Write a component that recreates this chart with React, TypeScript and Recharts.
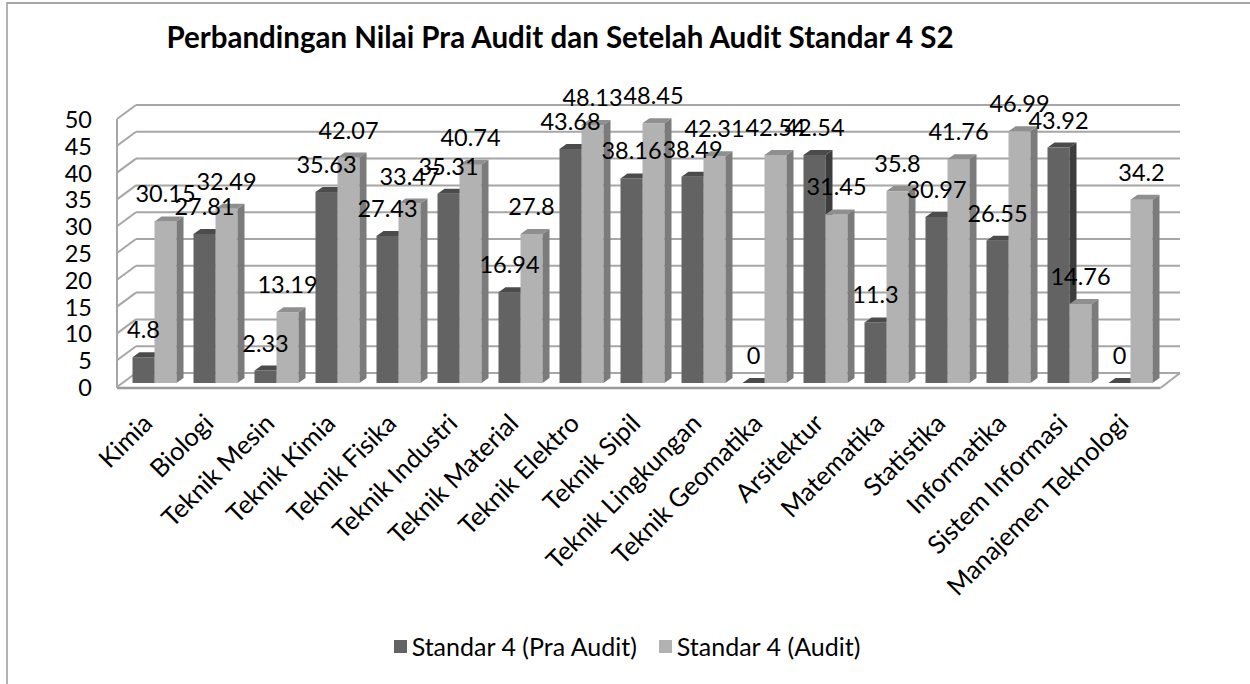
import React from 'react';
import { BarChart, Bar, XAxis, YAxis, CartesianGrid, LabelList, Legend } from 'recharts';

const categories = [
  'Kimia', 'Biologi', 'Teknik Mesin', 'Teknik Kimia', 'Teknik Fisika', 'Teknik Industri',
  'Teknik Material', 'Teknik Elektro', 'Teknik Sipil', 'Teknik Lingkungan', 'Teknik Geomatika',
  'Arsitektur', 'Matematika', 'Statistika', 'Informatika', 'Sistem Informasi', 'Manajemen Teknologi',
];
const praAudit = [4.8, 27.81, 2.33, 35.63, 27.43, 35.31, 16.94, 43.68, 38.16, 38.49, 0, 42.54, 11.3, 30.97, 26.55, 43.92, 0];
const audit = [30.15, 32.49, 13.19, 42.07, 33.47, 40.74, 27.8, 48.13, 48.45, 42.31, 42.54, 31.45, 35.8, 41.76, 46.99, 14.76, 34.2];
const yTicks = [0, 5, 10, 15, 20, 25, 30, 35, 40, 45, 50];
const seriesNames = ['Standar 4 (Pra Audit)', 'Standar 4 (Audit)'];

const data = categories.map((name, i) => ({ name, pra: praAudit[i], audit: audit[i] }));

const FONT = 'Lato, "Open Sans", sans-serif';
const DX = 7;
const DY = 5;
const GRID = '#a6a6a6';

// column with a top and a side face, Excel 3-D look
const Bar3D = (props: any) => {
  const { x, y, width, height, front, top, side } = props;
  if (x == null || y == null) return null;
  const h = Math.max(0, height || 0);
  return (
    <g>
      <rect x={x} y={y} width={width} height={h} fill={front} />
      <polygon
        points={`${x},${y} ${x + DX},${y - DY} ${x + width + DX},${y - DY} ${x + width},${y}`}
        fill={top}
      />
      <polygon
        points={`${x + width},${y} ${x + width + DX},${y - DY} ${x + width + DX},${y + h - DY} ${x + width},${y + h}`}
        fill={side}
      />
    </g>
  );
};

// back wall gridline + left wall diagonal (+ floor and wall edge)
const WallLine = (props: any) => {
  const { x1, y1, x2, y, height } = props;
  const back = y1 - 10;
  const isTop = y != null && Math.abs(y1 - y) < 1;
  const isBottom = y != null && height != null && Math.abs(y1 - (y + height)) < 1;
  return (
    <g>
      <line x1={x1 + 12.5} y1={back} x2={x2 + 19.5} y2={back} stroke={GRID} strokeWidth={2} />
      <line x1={x1 - 6.5} y1={y1 + 4} x2={x1 + 12.5} y2={back} stroke={GRID} strokeWidth={2} />
      {isTop && (
        <line x1={x1 - 6.5} y1={y1 + 4} x2={x1 - 6.5} y2={y + height + 5} stroke={GRID} strokeWidth={2} />
      )}
      {isBottom && (
        <g>
          <line x1={x1 - 6.5} y1={y1 + 5} x2={x2} y2={y1 + 5} stroke="#999" strokeWidth={2.5} />
          <line x1={x2} y1={y1 + 5} x2={x2 + 19.5} y2={back} stroke={GRID} strokeWidth={2} />
        </g>
      )}
    </g>
  );
};

const ValueLabel = (props: any) => {
  const { x, y, width, value } = props;
  return (
    <text x={x + width / 2} y={y - 19} textAnchor="middle" fontSize={23.5} fill="#000">
      {value}
    </text>
  );
};

const CategoryTick = (props: any) => {
  const { x, y, payload } = props;
  return (
    <g transform={`translate(${x},${y + 34})`}>
      <text x={0} y={0} textAnchor="end" transform="rotate(-45)" fontSize={25.5} fill="#000">
        {payload.value}
      </text>
    </g>
  );
};

const ValueTick = (props: any) => {
  const { x, y, payload } = props;
  return (
    <text x={x - 23.5} y={y + 13} textAnchor="end" fontSize={23.5} fill="#000">
      {payload.value}
    </text>
  );
};

const LegendContent = (props: any) => {
  const { payload = [] } = props;
  const items = [...payload].sort(
    (a: any, b: any) => seriesNames.indexOf(a.value) - seriesNames.indexOf(b.value),
  );
  return (
    <div style={{ display: 'flex', justifyContent: 'center', paddingLeft: 4, fontSize: 25, color: '#000' }}>
      {items.map((p: any, i: number) => (
        <span key={i} style={{ display: 'flex', alignItems: 'center', marginLeft: i ? 22 : 0 }}>
          <span style={{ width: 13, height: 13, background: p.color, marginRight: 5, display: 'inline-block' }} />
          {p.value}
        </span>
      ))}
    </div>
  );
};

export default function App() {
  return (
    <div
      style={{
        position: 'absolute', left: 0, top: 0, width: 1250, height: 684,
        overflow: 'hidden', background: '#fff', fontFamily: FONT,
      }}
    >
      <div
        style={{
          position: 'absolute', left: 6, top: 2, width: 1300, height: 800,
          borderLeft: '2px solid #b4b4b4', borderTop: '2px solid #a6a6a6',
        }}
      />
      <div
        style={{
          position: 'absolute', left: 0, top: 19, width: 1120, textAlign: 'center',
          fontSize: 29.5, fontWeight: 'bold', color: '#000',
        }}
      >
        Perbandingan Nilai Pra Audit dan Setelah Audit Standar 4 S2
      </div>
      <BarChart
        width={1250}
        height={684}
        data={data}
        margin={{ top: 115, right: 89.5, left: 63.5, bottom: 271 }}
        barGap={0}
        barSize={22}
        style={{ position: 'absolute', left: 0, top: 0, fontFamily: FONT }}
      >
        <CartesianGrid vertical={false} horizontal={(p: any) => <WallLine {...p} />} />
        <XAxis dataKey="name" interval={0} axisLine={false} tickLine={false} height={30} tick={<CategoryTick />} />
        <YAxis
          domain={[0, 50]}
          ticks={yTicks}
          interval={0}
          width={60}
          axisLine={false}
          tickLine={false}
          tick={<ValueTick />}
        />
        <Legend
          layout="horizontal"
          verticalAlign="middle"
          wrapperStyle={{ top: 631, left: 0, width: 1250 }}
          content={<LegendContent />}
        />
        <Bar
          dataKey="pra"
          name={seriesNames[0]}
          fill="#636363"
          isAnimationActive={false}
          shape={(p: any) => <Bar3D {...p} front="#636363" top="#4b4b4b" side="#3d3d3d" />}
        >
          <LabelList dataKey="pra" content={<ValueLabel />} />
        </Bar>
        <Bar
          dataKey="audit"
          name={seriesNames[1]}
          fill="#b2b2b2"
          isAnimationActive={false}
          shape={(p: any) => <Bar3D {...p} front="#b2b2b2" top="#8f8f8f" side="#7b7b7b" />}
        >
          <LabelList dataKey="audit" content={<ValueLabel />} />
        </Bar>
      </BarChart>
    </div>
  );
}
